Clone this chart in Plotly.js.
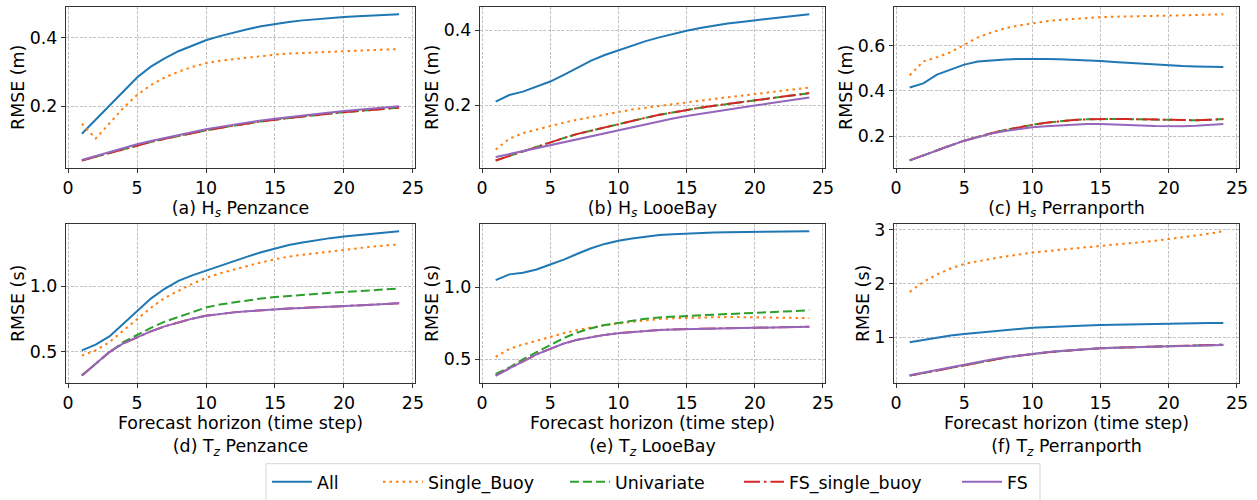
<!DOCTYPE html>
<html>
<head>
<meta charset="utf-8">
<script src="https://cdn.plot.ly/plotly-3.0.1.min.js"></script>
<style>html,body{margin:0;padding:0;background:#fff;}#chart{width:1257px;height:500px;}</style>
</head>
<body>
<div id="chart"></div>
<script>
// ---- data ----
const horizon = [1,2,3,4,5,6,7,8,9,10,11,12,13,14,15,16,17,18,19,20,21,22,23,24];
const seriesNames = ["All", "Single_Buoy", "Univariate", "FS_single_buoy", "FS"];
const panelTitles = [
  "(a) H<sub><i>s</i></sub> Penzance",
  "(b) H<sub><i>s</i></sub> LooeBay",
  "(c) H<sub><i>s</i></sub> Perranporth",
  "Forecast horizon (time step)<br>(d) T<sub><i>z</i></sub> Penzance",
  "Forecast horizon (time step)<br>(e) T<sub><i>z</i></sub> LooeBay",
  "Forecast horizon (time step)<br>(f) T<sub><i>z</i></sub> Perranporth"
];
const yTitles = ["RMSE (m)", "RMSE (m)", "RMSE (m)", "RMSE (s)", "RMSE (s)", "RMSE (s)"];
const xTicks = [0, 5, 10, 15, 20, 25];

// (a) Hs Penzance
const hsPenzance_All = [0.120,0.161,0.203,0.246,0.284,0.316,0.340,0.361,0.378,0.393,0.405,0.416,0.425,0.434,0.441,0.446,0.451,0.455,0.458,0.461,0.463,0.465,0.467,0.469];
const hsPenzance_Single = [0.149,0.106,0.150,0.195,0.233,0.262,0.284,0.301,0.315,0.326,0.333,0.338,0.343,0.347,0.351,0.354,0.356,0.358,0.360,0.361,0.363,0.364,0.366,0.367];
const hsPenzance_Uni = [0.042,0.053,0.064,0.075,0.086,0.096,0.105,0.114,0.122,0.130,0.137,0.144,0.150,0.156,0.161,0.166,0.171,0.175,0.179,0.183,0.186,0.190,0.193,0.196];
const hsPenzance_FSsingle = [0.042,0.053,0.064,0.075,0.086,0.096,0.105,0.114,0.122,0.130,0.137,0.144,0.150,0.156,0.161,0.166,0.171,0.175,0.179,0.183,0.186,0.190,0.193,0.196];
const hsPenzance_FS = [0.043,0.055,0.066,0.078,0.089,0.099,0.108,0.117,0.125,0.133,0.140,0.147,0.153,0.159,0.164,0.169,0.174,0.178,0.182,0.186,0.190,0.193,0.196,0.200];

// (b) Hs LooeBay
const hsLooe_All = [0.209,0.227,0.236,0.249,0.263,0.281,0.300,0.319,0.334,0.347,0.360,0.371,0.381,0.391,0.399,0.406,0.412,0.418,0.422,0.427,0.431,0.435,0.439,0.443];
const hsLooe_Single = [0.081,0.110,0.125,0.135,0.145,0.153,0.161,0.168,0.176,0.183,0.188,0.193,0.198,0.203,0.208,0.212,0.217,0.221,0.225,0.229,0.233,0.237,0.242,0.247];
const hsLooe_Uni = [0.052,0.064,0.076,0.089,0.102,0.112,0.123,0.132,0.141,0.150,0.158,0.166,0.174,0.181,0.188,0.193,0.198,0.203,0.208,0.214,0.218,0.223,0.227,0.232];
const hsLooe_FSsingle = [0.052,0.064,0.076,0.089,0.102,0.112,0.123,0.132,0.141,0.150,0.158,0.166,0.174,0.181,0.188,0.193,0.198,0.203,0.208,0.214,0.218,0.223,0.227,0.232];
const hsLooe_FS = [0.061,0.069,0.077,0.086,0.094,0.102,0.110,0.118,0.125,0.133,0.141,0.148,0.156,0.164,0.171,0.177,0.183,0.188,0.194,0.199,0.204,0.209,0.215,0.220];

// (c) Hs Perranporth
const hsPerran_All = [0.415,0.433,0.472,0.495,0.516,0.530,0.536,0.539,0.541,0.542,0.541,0.540,0.538,0.535,0.532,0.528,0.524,0.520,0.516,0.513,0.510,0.508,0.506,0.505];
const hsPerran_Single = [0.469,0.530,0.549,0.571,0.603,0.636,0.658,0.676,0.688,0.699,0.707,0.713,0.718,0.722,0.725,0.727,0.729,0.730,0.731,0.732,0.733,0.735,0.736,0.738];
const hsPerran_Uni = [0.094,0.117,0.139,0.160,0.181,0.199,0.214,0.228,0.240,0.251,0.260,0.267,0.272,0.275,0.277,0.277,0.276,0.275,0.273,0.271,0.270,0.271,0.273,0.276];
const hsPerran_FSsingle = [0.094,0.117,0.139,0.160,0.181,0.199,0.214,0.228,0.240,0.251,0.260,0.267,0.272,0.275,0.277,0.277,0.276,0.275,0.273,0.271,0.270,0.271,0.273,0.276];
const hsPerran_FS = [0.094,0.117,0.139,0.160,0.181,0.198,0.212,0.224,0.233,0.240,0.245,0.249,0.252,0.254,0.254,0.253,0.251,0.248,0.246,0.245,0.245,0.247,0.250,0.254];

// (d) Tz Penzance
const tzPenzance_All = [0.510,0.553,0.616,0.711,0.812,0.905,0.980,1.040,1.083,1.120,1.158,1.193,1.226,1.259,1.289,1.314,1.334,1.352,1.367,1.379,1.390,1.402,1.412,1.420];
const tzPenzance_Single = [0.470,0.510,0.573,0.661,0.749,0.835,0.910,0.967,1.018,1.063,1.098,1.126,1.155,1.182,1.206,1.226,1.240,1.253,1.268,1.281,1.292,1.302,1.311,1.319];
const tzPenzance_Uni = [0.317,0.410,0.497,0.573,0.628,0.681,0.729,0.766,0.805,0.837,0.860,0.877,0.893,0.906,0.917,0.926,0.934,0.942,0.949,0.955,0.962,0.969,0.976,0.982];
const tzPenzance_FSsingle = [0.317,0.410,0.497,0.563,0.611,0.655,0.693,0.724,0.752,0.774,0.789,0.800,0.809,0.817,0.824,0.829,0.834,0.838,0.843,0.847,0.852,0.858,0.864,0.869];
const tzPenzance_FS = [0.317,0.410,0.497,0.563,0.611,0.655,0.693,0.724,0.752,0.774,0.789,0.800,0.809,0.817,0.824,0.829,0.834,0.838,0.843,0.847,0.852,0.858,0.864,0.869];

// (e) Tz LooeBay
const tzLooe_All = [1.048,1.088,1.100,1.122,1.156,1.190,1.231,1.269,1.299,1.321,1.337,1.351,1.360,1.366,1.371,1.375,1.378,1.380,1.381,1.382,1.383,1.384,1.386,1.387];
const tzLooe_Single = [0.516,0.572,0.602,0.629,0.654,0.681,0.703,0.722,0.737,0.749,0.760,0.771,0.779,0.784,0.787,0.790,0.792,0.793,0.792,0.790,0.788,0.786,0.785,0.785];
const tzLooe_Uni = [0.398,0.443,0.500,0.550,0.602,0.647,0.686,0.715,0.737,0.753,0.768,0.781,0.790,0.796,0.801,0.805,0.809,0.813,0.817,0.821,0.825,0.829,0.834,0.839];
const tzLooe_FSsingle = [0.387,0.437,0.489,0.534,0.572,0.609,0.636,0.654,0.669,0.681,0.690,0.698,0.703,0.707,0.710,0.712,0.714,0.716,0.717,0.718,0.720,0.722,0.724,0.726];
const tzLooe_FS = [0.387,0.437,0.489,0.534,0.572,0.609,0.636,0.654,0.669,0.681,0.690,0.698,0.703,0.707,0.710,0.712,0.714,0.716,0.717,0.718,0.720,0.722,0.724,0.726];

// (f) Tz Perranporth
const tzPerran_All = [0.909,0.951,1.006,1.034,1.061,1.087,1.112,1.135,1.157,1.176,1.190,1.202,1.212,1.222,1.231,1.237,1.243,1.248,1.252,1.255,1.259,1.262,1.265,1.267];
const tzPerran_Single = [1.845,2.027,2.167,2.277,2.362,2.415,2.459,2.500,2.540,2.574,2.600,2.623,2.648,2.672,2.696,2.719,2.741,2.763,2.793,2.824,2.855,2.884,2.925,2.970];
const tzPerran_Uni = [0.290,0.338,0.388,0.438,0.487,0.535,0.583,0.624,0.660,0.692,0.719,0.742,0.763,0.782,0.797,0.807,0.815,0.822,0.828,0.833,0.840,0.848,0.856,0.864];
const tzPerran_FSsingle = [0.290,0.338,0.388,0.438,0.487,0.535,0.583,0.624,0.660,0.692,0.719,0.742,0.763,0.782,0.797,0.807,0.815,0.822,0.828,0.833,0.840,0.848,0.856,0.864];
const tzPerran_FS = [0.295,0.345,0.395,0.446,0.495,0.543,0.590,0.630,0.665,0.696,0.722,0.745,0.765,0.784,0.799,0.808,0.815,0.821,0.826,0.830,0.837,0.845,0.853,0.860];

const panels = [
  [hsPenzance_All, hsPenzance_Single, hsPenzance_Uni, hsPenzance_FSsingle, hsPenzance_FS],
  [hsLooe_All, hsLooe_Single, hsLooe_Uni, hsLooe_FSsingle, hsLooe_FS],
  [hsPerran_All, hsPerran_Single, hsPerran_Uni, hsPerran_FSsingle, hsPerran_FS],
  [tzPenzance_All, tzPenzance_Single, tzPenzance_Uni, tzPenzance_FSsingle, tzPenzance_FS],
  [tzLooe_All, tzLooe_Single, tzLooe_Uni, tzLooe_FSsingle, tzLooe_FS],
  [tzPerran_All, tzPerran_Single, tzPerran_Uni, tzPerran_FSsingle, tzPerran_FS]
];

// ---- styling ----
const W = 1257, H = 500;
const MB = 50;               // bottom margin (room for the legend row)
const PH = H - MB;           // plot-area height in px
const FONT = "DejaVu Sans";
const FS_ = 17.4;
const colors = ["#1f77b4", "#ff7f0e", "#2ca02c", "#d62728", "#9467bd"];
const dashes = ["solid", "2.5px,4px", "9px,4px", "16px,4px,2.5px,4px", "solid"];
const colPx = [[66, 415], [480, 825], [894, 1239]];
const rowPx = [[7, 170], [227, 388]];
const xStandoff = [0, 0, 0, 5, 5, 5];
const yDtick = [0.2, 0.2, 0.2, 0.5, 0.5, 1];
const yFmt = [".1f", ".1f", ".1f", ".1f", ".1f", "d"];
const legendLineX = [272, 383, 570, 744, 962];
const py = px => (PH - px) / PH;   // pixel row -> paper fraction

const traces = [];
const layout = {
  width: W, height: H,
  margin: {l: 0, r: 0, t: 0, b: MB},
  paper_bgcolor: "#fff", plot_bgcolor: "#fff",
  font: {family: FONT, size: FS_, color: "#000"},
  showlegend: true,
  shapes: [],
};

panels.forEach((series, p) => {
  const r = Math.floor(p / 3), c = p % 3;
  const xa = p === 0 ? "x" : "x" + (p + 1);
  const ya = p === 0 ? "y" : "y" + (p + 1);
  series.forEach((vals, s) => {
    const tr = {
      x: horizon, y: vals, xaxis: xa, yaxis: ya, type: "scatter", mode: "lines",
      name: seriesNames[s],
      line: {color: colors[s], width: 2, dash: dashes[s]},
      showlegend: p === 0,
      hoverinfo: "skip"
    };
    if (p === 0) tr.legend = s === 0 ? "legend" : "legend" + (s + 1);
    traces.push(tr);
  });
  let mn = Infinity, mx = -Infinity;
  series.forEach(v => v.forEach(d => { mn = Math.min(mn, d); mx = Math.max(mx, d); }));
  const pad = (mx - mn) * 0.05;
  const axCommon = {
    showline: true, mirror: true, linecolor: "#333", linewidth: 1.1,
    ticks: "outside", ticklen: 4, tickwidth: 1, tickcolor: "#333",
    showgrid: true, gridcolor: "#b4b4b4", griddash: "3px,1.5px", gridwidth: 0.8,
    zeroline: false, tickfont: {family: FONT, size: FS_, color: "#000"}
  };
  layout[p === 0 ? "xaxis" : "xaxis" + (p + 1)] = Object.assign({}, axCommon, {
    domain: [colPx[c][0] / W, colPx[c][1] / W],
    anchor: ya,
    range: [-0.15, 25.15],
    tickmode: "array", tickvals: xTicks,
    title: {text: panelTitles[p], font: {family: FONT, size: FS_, color: "#000"}, standoff: xStandoff[p]}
  });
  layout[p === 0 ? "yaxis" : "yaxis" + (p + 1)] = Object.assign({}, axCommon, {
    domain: [py(rowPx[r][1]), py(rowPx[r][0])],
    anchor: xa,
    range: [mn - pad, mx + pad],
    tick0: 0, dtick: yDtick[p], tickformat: yFmt[p],
    title: {text: yTitles[p], font: {family: FONT, size: FS_, color: "#000"}, standoff: 0}
  });
});

seriesNames.forEach((n, s) => {
  layout[s === 0 ? "legend" : "legend" + (s + 1)] = {
    x: (legendLineX[s] - 5) / W, y: py(489),
    xref: "paper", yref: "paper",
    xanchor: "left", yanchor: "middle",
    orientation: "h", bgcolor: "rgba(0,0,0,0)", borderwidth: 0,
    font: {family: FONT, size: FS_, color: "#000"},
    itemwidth: 40
  };
});

layout.shapes.push({
  type: "rect", xref: "paper", yref: "paper",
  x0: 266 / W, x1: 1040 / W, y0: py(510), y1: py(470),
  line: {color: "#d5d5d5", width: 1}, fillcolor: "rgba(0,0,0,0)"
});

Plotly.newPlot("chart", traces, layout, {staticPlot: true, displayModeBar: false});
</script>
</body>
</html>
